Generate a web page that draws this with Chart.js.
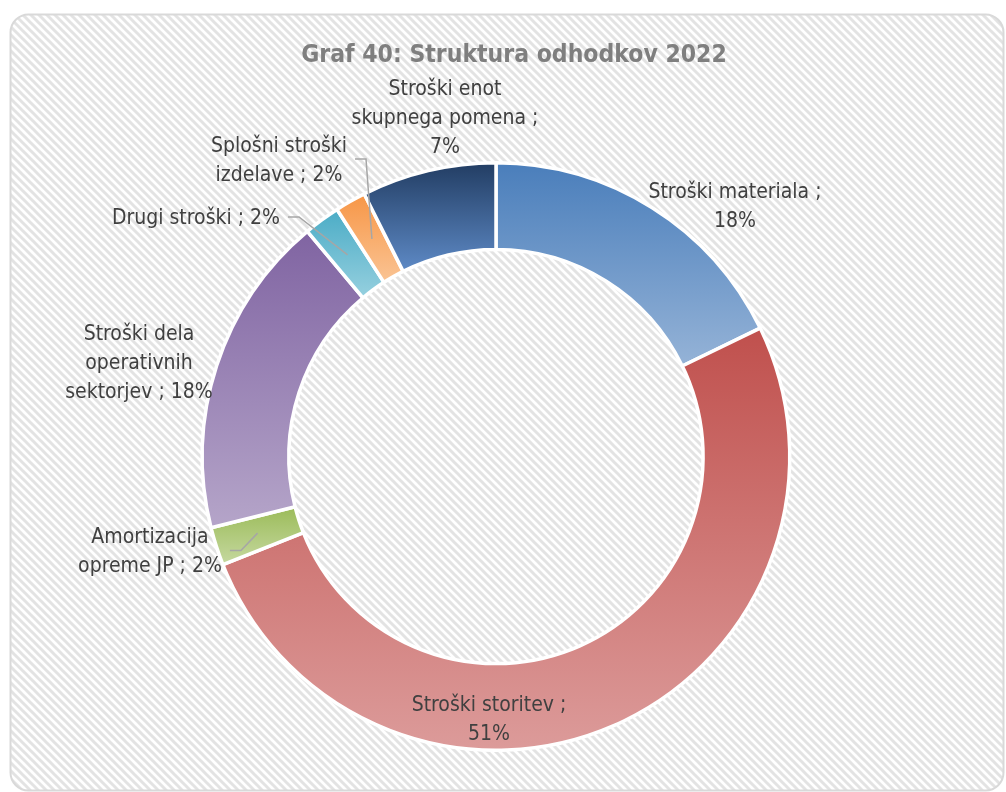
<!DOCTYPE html>
<html>
<head>
<meta charset="utf-8">
<script src="https://cdn.jsdelivr.net/npm/chart.js@4.4.1/dist/chart.umd.min.js"></script>
<style>
  html, body { margin: 0; padding: 0; background: #fff; }
  #wrap { width: 1006px; height: 792px; }
</style>
</head>
<body>
<div id="wrap"><canvas id="odhodkiChart" width="1006" height="792"></canvas></div>
<script>
// Data (deleži v %)
const chartTitle = 'Graf 40: Struktura odhodkov 2022';
const categories = [
    'Stroški materiala',
    'Stroški storitev',
    'Amortizacija opreme JP',
    'Stroški dela operativnih sektorjev',
    'Drugi stroški',
    'Splošni stroški izdelave',
    'Stroški enot skupnega pomena'
];
const shares = [17.8, 51.2, 2.1, 17.8, 2.0, 1.7, 7.4];

// Styles: gradient top -> bottom for each segment
const gradientColors = [
    ['#4a7ebb', '#95b3d7'],
    ['#c0504d', '#dc9b9a'],
    ['#9bbb59', '#c6d9a0'],
    ['#8064a2', '#b5a5c9'],
    ['#4bacc6', '#96d0df'],
    ['#f79646', '#fac494'],
    ['#223d63', '#5e8ac6']
];

const FONT = '"Liberation Sans Narrow", "DejaVu Sans Condensed", Roboto, sans-serif';

// Label placement relative to doughnut centre; wrap = words per line
const labelLayout = [
    { dx: 239, dy: -249.5, wrap: [3] },
    { dx: -7, dy: 263.5, wrap: [3] },
    { dx: -346, dy: 96, wrap: [1], leader: true },
    { dx: -357, dy: -92.5, wrap: [2, 1] },
    { dx: -300, dy: -237.5, wrap: [], leader: true },
    { dx: -217, dy: -295.5, wrap: [2], leader: true },
    { dx: -51, dy: -337.5, wrap: [2, 3] }
];

const total = shares.reduce((a, b) => a + b, 0);

function segmentFill(context) {
    const chart = context.chart;
    const i = context.dataIndex;
    const c = gradientColors[i];
    const area = chart.chartArea;
    const ctrl = chart.getDatasetMeta(0).controller;
    if (!area || !ctrl || !isFinite(ctrl.outerRadius)) return c[0];
    const cy = (area.top + area.bottom) / 2;
    let start = -Math.PI / 2;
    for (let k = 0; k < i; k++) start += shares[k] / total * 2 * Math.PI;
    const end = start + shares[i] / total * 2 * Math.PI;
    let minY = Infinity, maxY = -Infinity;
    for (let s = 0; s <= 40; s++) {
        const a = start + (end - start) * s / 40;
        for (const r of [ctrl.innerRadius, ctrl.outerRadius]) {
            const y = cy + r * Math.sin(a);
            minY = Math.min(minY, y);
            maxY = Math.max(maxY, y);
        }
    }
    const g = chart.ctx.createLinearGradient(0, minY, 0, maxY);
    g.addColorStop(0, c[0]);
    g.addColorStop(1, c[1]);
    return g;
}

const backgroundPlugin = {
    id: 'hatchedBackground',
    beforeDraw(chart) {
        const ctx = chart.ctx;
        ctx.save();
        ctx.fillStyle = '#fff';
        ctx.fillRect(0, 0, chart.width, chart.height);
        const tile = document.createElement('canvas');
        tile.width = 8;
        tile.height = 8;
        const t = tile.getContext('2d');
        t.fillStyle = '#fff';
        t.fillRect(0, 0, 8, 8);
        t.strokeStyle = '#e3e3e3';
        t.lineWidth = 3;
        for (let k = -1; k <= 1; k++) {
            t.beginPath();
            t.moveTo(-1, -1 + 8 * k);
            t.lineTo(9, 9 + 8 * k);
            t.stroke();
        }
        ctx.beginPath();
        ctx.roundRect(10.5, 14.5, 993, 776, 18);
        ctx.fillStyle = ctx.createPattern(tile, 'repeat');
        ctx.fill();
        ctx.strokeStyle = '#d9d9d9';
        ctx.lineWidth = 2;
        ctx.stroke();
        ctx.restore();
    }
};

const titlePlugin = {
    id: 'grafTitle',
    afterDraw(chart) {
        const ctx = chart.ctx;
        ctx.save();
        ctx.font = 'bold 24.5px ' + FONT;
        ctx.fillStyle = '#7f7f7f';
        ctx.textAlign = 'center';
        ctx.textBaseline = 'middle';
        ctx.fillText(chartTitle, 514, 56);
        ctx.restore();
    }
};

function labelLines(i) {
    const pct = Math.round(shares[i] / total * 100);
    const words = (categories[i] + ' ; ' + pct + '%').split(' ');
    const lines = [];
    let pos = 0;
    for (const n of labelLayout[i].wrap) {
        lines.push(words.slice(pos, pos + n).join(' '));
        pos += n;
    }
    lines.push(words.slice(pos).join(' '));
    return lines;
}

const labelPlugin = {
    id: 'sliceLabels',
    afterDatasetsDraw(chart) {
        const ctx = chart.ctx;
        const arcs = chart.getDatasetMeta(0).data;
        const lineH = 29;
        ctx.save();
        ctx.font = '21px ' + FONT;
        ctx.textAlign = 'center';
        ctx.textBaseline = 'middle';
        arcs.forEach((arc, i) => {
            const lay = labelLayout[i];
            const lines = labelLines(i);
            const bx = arc.x + lay.dx;
            const by = arc.y + lay.dy;
            let maxW = 0;
            lines.forEach((ln, k) => {
                maxW = Math.max(maxW, ctx.measureText(ln).width);
                ctx.fillStyle = '#404040';
                ctx.fillText(ln, bx, by + (k - (lines.length - 1) / 2) * lineH);
            });
            if (lay.leader) {
                const p = arc.getCenterPoint();
                const sx = bx + maxW / 2 + 8;
                const sy = by - 2;
                ctx.beginPath();
                ctx.moveTo(sx, sy);
                ctx.lineTo(sx + 11, sy);
                ctx.lineTo(p.x, p.y);
                ctx.strokeStyle = '#a6a6a6';
                ctx.lineWidth = 1.5;
                ctx.stroke();
            }
        });
        ctx.restore();
    }
};

new Chart(document.getElementById('odhodkiChart'), {
    type: 'doughnut',
    data: {
        labels: categories,
        datasets: [{
            data: shares,
            backgroundColor: segmentFill,
            borderColor: '#ffffff',
            borderWidth: 3.5
        }]
    },
    options: {
        responsive: false,
        animation: false,
        cutout: '70.5%',
        layout: {
            padding: { left: 200, right: 214, top: 161, bottom: 40 }
        },
        plugins: {
            legend: { display: false },
            tooltip: { enabled: false },
            title: { display: false }
        }
    },
    plugins: [backgroundPlugin, titlePlugin, labelPlugin]
});
</script>
</body>
</html>
